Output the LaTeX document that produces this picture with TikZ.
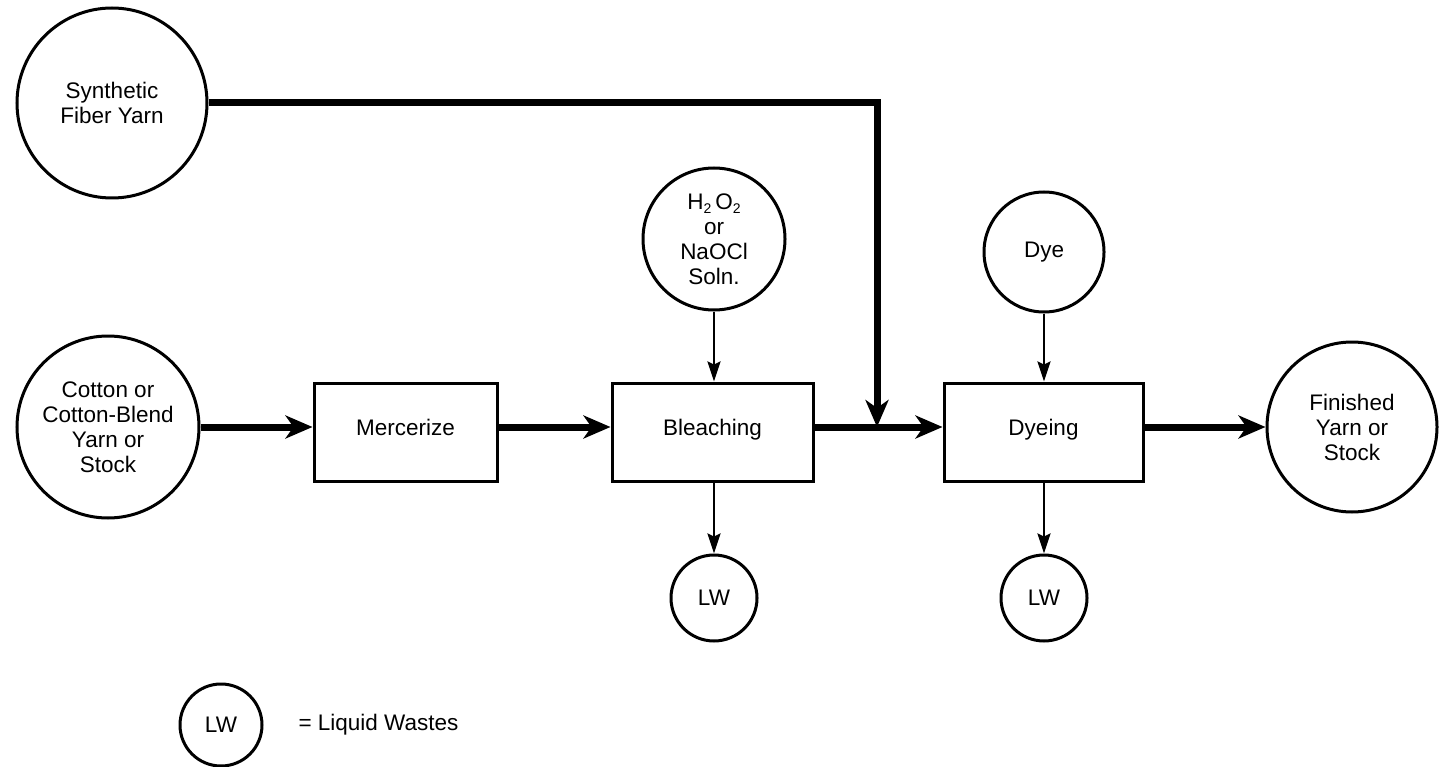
\documentclass[tikz,border=0pt]{standalone}
\usepackage{fontspec}
\setmainfont{Liberation Sans}
\usetikzlibrary{arrows.meta}
\newcommand\dn[1]{\raisebox{-0.35ex}{\fontsize{14}{14}\selectfont #1}}
\tikzset{
  every node/.style={font=\fontsize{22.5}{25}\selectfont, align=center},
  circ/.style={draw, line width=3pt, circle, inner sep=0pt},
  procbox/.style={draw, line width=3pt, rectangle, minimum width=200pt, minimum height=98pt, inner sep=0pt},
  thickflow/.style={line width=7pt, -{Stealth[length=27pt, width=23pt, inset=8pt]}},
  thinflow/.style={line width=2.5pt, -{Stealth[length=20pt, width=13pt, inset=3pt]}},
}
\begin{document}
\begin{tikzpicture}[x=1pt,y=-1pt]
\useasboundingbox (0,0) rectangle (1450,767);
% sources
\node[circ, minimum size=190pt] (syn) at (112,103) {\raisebox{6pt}{\parbox{150pt}{\centering Synthetic\\Fiber Yarn}}};
\node[circ, minimum size=182pt] (cot) at (108,427) {\raisebox{5pt}{\parbox{150pt}{\centering Cotton or\\Cotton-Blend\\Yarn or\\Stock}}};
\node[circ, minimum size=142pt] (hoo) at (714,239) {H\dn{2}\,O\dn{2}\\or\\NaOCl\\Soln.};
\node[circ, minimum size=120pt] (dye) at (1044,252) {Dye};
\node[circ, minimum size=170pt] (fin) at (1352,427) {Finished\\Yarn or\\Stock};
% processes
\node[procbox, minimum width=183pt] (mer) at (405.5,432) {\raisebox{10pt}{Mercerize}};
\node[procbox, minimum width=201pt] (ble) at (712.5,432) {\raisebox{10pt}{Bleaching}};
\node[procbox, minimum width=199pt] (dyg) at (1043.5,432) {\raisebox{10pt}{Dyeing}};
% liquid wastes
\node[circ, minimum size=86pt] (lw1) at (714,598) {LW};
\node[circ, minimum size=86pt] (lw2) at (1044,598) {LW};
% junction
\coordinate (j) at (877,427);
% main flow
\draw[thickflow] (cot.east) -- ([yshift=5pt]mer.west);
\draw[thickflow] ([yshift=5pt]mer.east) -- ([yshift=5pt]ble.west);
\draw[thickflow] ([yshift=5pt]ble.east) -- ([yshift=5pt]dyg.west);
\draw[thickflow] ([yshift=5pt]dyg.east) -- (fin.west);
\draw[thickflow] (syn.east) -| (j);
% thin flows
\draw[thinflow] (hoo.south) -- (hoo.south |- ble.north);
\draw[thinflow] (dye.south) -- (dye.south |- dyg.north);
\draw[thinflow] (lw1.north |- ble.south) -- (lw1.north);
\draw[thinflow] (lw2.north |- dyg.south) -- (lw2.north);
% legend
\node[circ, minimum size=82pt] (leg) at (221,725) {LW};
\node[anchor=west] (legt) at (295,725) {= Liquid Wastes};
\end{tikzpicture}
\end{document}
